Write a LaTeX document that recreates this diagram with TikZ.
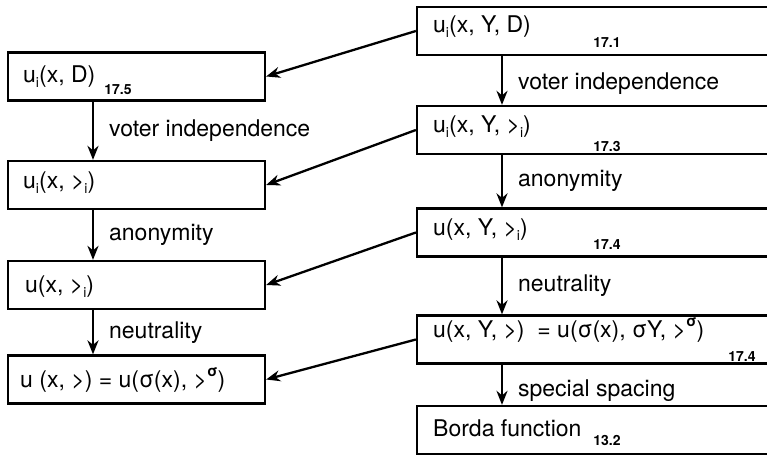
\documentclass[tikz,border=0pt]{standalone}
\usepackage{fontspec}
\setmainfont{TeX Gyre Heros}
\usetikzlibrary{arrows.meta}
\newcommand\sbi{\raisebox{-0.35ex}{\fontsize{14}{14}\selectfont i}}
\newcommand\supsig{\raisebox{0.85ex}{\fontsize{15}{15}\selectfont\bfseries σ}}
\begin{document}
\begin{tikzpicture}[x=1pt,y=-1pt,
  box/.style={draw, line width=2.3pt, inner sep=0pt, minimum height=48pt},
  lbox/.style={box, minimum width=257pt},
  rbox/.style={box, minimum width=373pt},
  tx/.style={anchor=west, inner sep=0pt, font=\fontsize{23}{26}\selectfont},
  num/.style={inner sep=0pt, font=\fontsize{14}{14}\selectfont\bfseries},
  lbl/.style={right, inner sep=0pt, xshift=15pt, font=\fontsize{23}{26}\selectfont},
  arr/.style={line width=2.3pt, -{Stealth[length=14pt,width=11pt]}}]
\useasboundingbox (0,0) rectangle (767,455);
% left boxes
\node[lbox] (L1) at (136.5,76.5) {};
\node[lbox] (L2) at (136.5,185) {};
\node[lbox] (L3) at (136.5,285) {};
\node[lbox] (L4) at (136.5,379.5) {};
% right boxes
\node[rbox] (R1) at (603.5,31) {};
\node[rbox] (R2) at (603.5,130) {};
\node[rbox] (R3) at (603.5,232.5) {};
\node[rbox] (R4) at (603.5,339.5) {};
\node[rbox] (R5) at (603.5,430) {};
% texts
\node[tx] (tL1) at (23,77) {u\sbi(x, D)};
\node[tx] (tL2) at (23,183) {u\sbi(x, >\sbi)};
\node[tx] (tL3) at (25,287) {u(x, >\sbi)};
\node[tx] (tL4) at (20,380) {u (x, >) = u(σ(x), >\supsig)};
\node[tx] (tR1) at (433,27) {u\sbi(x, Y, D)};
\node[tx] (tR2) at (433,127) {u\sbi(x, Y, >\sbi)};
\node[tx] (tR3) at (433,230) {u(x, Y, >\sbi)};
\node[tx] (tR4) at (433,330) {u(x, Y, >)~ = u(σ(x), σY, >\supsig)};
\node[tx] (tR5) at (433,428) {Borda function};
% numbers
\node[num] (nL1) at (118,90) {17.5};
\node[num] (nR1) at (607,43) {17.1};
\node[num] (nR2) at (607,146) {17.3};
\node[num] (nR3) at (607,245) {17.4};
\node[num] (nR4) at (742,357) {17.4};
\node[num] (nR5) at (607,440) {13.2};
% coordinates for vertical arrows
\coordinate (lx) at (93,0);
\coordinate (rx) at (502,0);
\draw[arr] (L1.south -| lx) -- node[lbl]{voter independence} (L2.north -| lx);
\draw[arr] (L2.south -| lx) -- node[lbl]{anonymity} (L3.north -| lx);
\draw[arr] (L3.south -| lx) -- node[lbl]{neutrality} (L4.north -| lx);
\draw[arr] (R1.south -| rx) -- node[lbl, yshift=-3pt]{voter independence} (R2.north -| rx);
\draw[arr] (R2.south -| rx) -- node[lbl]{anonymity} (R3.north -| rx);
\draw[arr] (R3.south -| rx) -- node[lbl]{neutrality} (R4.north -| rx);
\draw[arr] (R4.south -| rx) -- node[lbl, yshift=-6pt]{special spacing} (R5.north -| rx);
% diagonal arrows
\draw[arr] (R1.west) -- (L1.east);
\draw[arr] (R2.west) -- (L2.east);
\draw[arr] (R3.west) -- (L3.east);
\draw[arr] (R4.west) -- (L4.east);
\end{tikzpicture}
\end{document}
